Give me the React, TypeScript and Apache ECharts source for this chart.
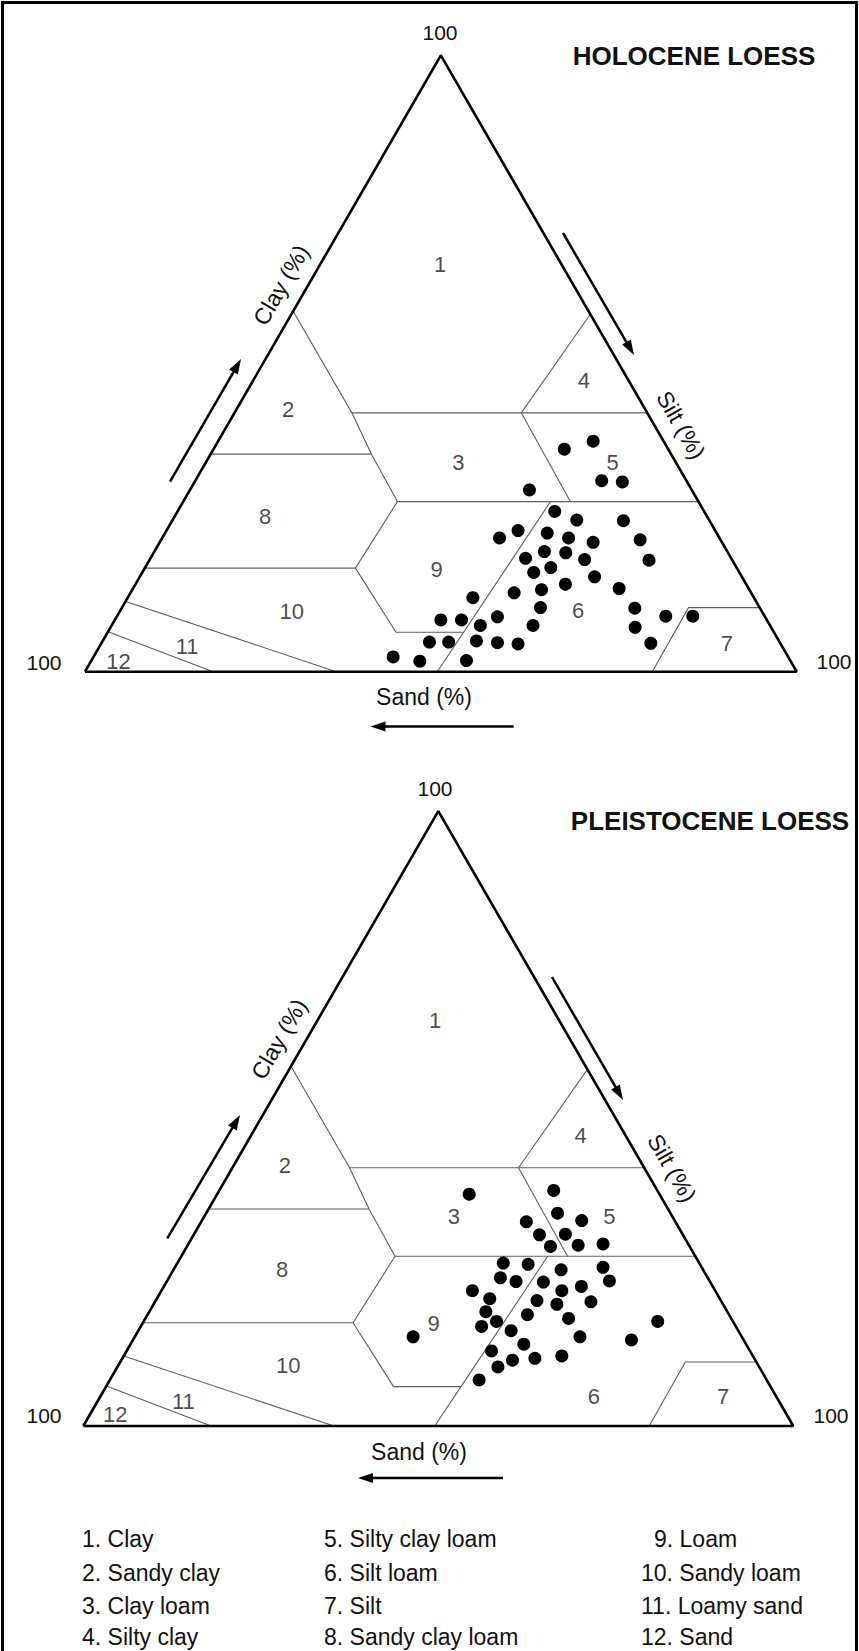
import React, { useEffect, useRef } from "react";
import * as echarts from "echarts";

// ---------- DATA (ternary compositions as [clay %, silt %]; sand % = 100 - clay - silt) ----------
const holoceneSamples: [number, number][] = [
  [36.1, 49.3], [37.4, 52.7], [31.0, 57.1], [30.8, 60.1], [29.5, 47.7], [26.0, 53.0],
  [24.6, 56.8], [24.5, 63.4], [21.7, 47.4], [22.9, 49.4], [22.5, 53.7], [21.7, 57.1],
  [21.0, 60.9], [21.4, 67.3], [19.5, 54.8], [19.3, 57.9], [18.4, 52.7], [18.2, 61.1],
  [18.1, 70.2], [16.1, 55.0], [16.9, 57.0], [15.4, 63.9], [12.0, 48.5], [12.8, 53.9],
  [13.3, 57.5], [14.2, 60.4], [13.5, 68.3], [8.4, 45.8], [8.4, 48.7], [7.5, 51.8],
  [8.9, 53.5], [10.4, 58.8], [10.3, 72.1], [9.0, 77.1], [9.0, 80.9], [7.5, 59.2],
  [7.2, 73.7], [4.8, 46.0], [4.8, 48.7], [5.0, 52.5], [4.7, 55.6], [4.5, 58.6],
  [4.6, 77.2], [1.7, 46.2], [1.8, 52.7], [2.4, 42.1],
];

const pleistoceneSamples: [number, number][] = [
  [37.7, 35.5], [38.3, 47.1], [34.6, 49.5], [33.2, 45.8], [33.4, 53.5], [31.1, 48.7],
  [31.2, 52.3], [29.2, 51.2], [29.4, 55.0], [29.6, 58.4], [26.5, 45.9], [26.3, 49.5],
  [25.4, 54.6], [25.8, 60.3], [24.1, 46.7], [23.5, 49.2], [23.4, 53.1], [22.7, 58.8],
  [23.6, 62.3], [22.0, 43.8], [22.0, 56.4], [20.7, 46.9], [20.2, 61.4], [20.4, 53.7],
  [19.8, 56.8], [18.6, 47.4], [18.1, 53.5], [17.5, 59.6], [16.2, 48.0], [17.0, 49.7],
  [15.5, 52.5], [14.5, 39.2], [14.5, 62.7], [14.0, 70.2], [17.0, 72.4], [13.3, 55.4],
  [12.2, 51.4], [10.7, 55.1], [11.0, 58.1], [11.4, 61.7], [9.6, 53.6], [7.5, 52.0],
];

// Texture-class boundary polylines, [clay %, silt %]
const boundarySandClay: [number, number][] = [[58.5, 0], [42, 16.5], [35.3, 22.6], [27.6, 30.1], [16.8, 29.6], [6.4, 40.5], [6.4, 50.0]];
const boundaryClay42: [number, number][] = [[42, 16.5], [42, 40.3], [42, 58]];
const boundarySiltyClay: [number, number][] = [[42, 40.3], [58, 42]];
const boundaryClayLoam: [number, number][] = [[42, 40.3], [27.6, 54.4]];
const boundaryClay27: [number, number][] = [[27.6, 30.1], [27.6, 72.4]];
const boundarySilt50: [number, number][] = [[27.6, 51.6], [6.4, 50.0], [0, 49.5]];
const boundaryClay35: [number, number][] = [[35.3, 0], [35.3, 22.6]];
const boundaryClay17: [number, number][] = [[16.8, 0], [16.8, 29.6]];
const boundaryLoamySand: [number, number][] = [[11.4, 0], [0, 35.3]];
const boundarySand: [number, number][] = [[6.5, 0], [0, 18.0]];
const boundarySilt: [number, number][] = [[0, 79.7], [10.4, 79.6], [10.4, 89.6]];
const outline: [number, number][] = [[0, 0], [0, 100], [100, 0], [0, 0]];

const classNames = [
  "Clay", "Sandy clay", "Clay loam", "Silty clay", "Silty clay loam", "Silt loam",
  "Silt", "Sandy clay loam", "Loam", "Sandy loam", "Loamy sand", "Sand",
];
const holoceneLabelPos: [number, number][] = [
  [66.0, 16.9], [42.5, 7.3], [33.9, 35.5], [47.2, 46.5], [33.9, 57.2], [10.0, 64.3],
  [4.6, 87.9], [25.2, 12.7], [16.6, 41.1], [9.7, 24.2], [4.1, 12.3], [1.6, 3.9],
];
const pleistoceneLabelPos: [number, number][] = [
  [65.9, 16.6], [42.4, 7.2], [34.0, 35.2], [47.3, 46.4], [34.0, 57.1], [4.8, 69.5],
  [4.8, 87.7], [25.4, 15.3], [16.7, 41.0], [9.9, 23.9], [4.0, 12.1], [1.8, 3.6],
];
const panelTitles = ["HOLOCENE LOESS", "PLEISTOCENE LOESS"];

// ---------- LAYOUT ----------
const FONT = "'Liberation Sans', Arial, Helvetica, sans-serif";
const grids = [
  { left: 85, top: 55.4, width: 711.7, height: 616.3 },
  { left: 83.3, top: 811.1, width: 710, height: 614.9 },
];

const toXY = (p: [number, number]) => [p[1] + p[0] / 2, p[0]];

function arrow(x1: number, y1: number, x2: number, y2: number) {
  const dx = x2 - x1, dy = y2 - y1;
  const L = Math.hypot(dx, dy);
  const ux = dx / L, uy = dy / L;
  const hl = 15, hw = 5;
  const bx = x2 - ux * hl, by = y2 - uy * hl;
  return [
    { type: "line", shape: { x1, y1, x2: bx + ux * 2, y2: by + uy * 2 }, style: { stroke: "#000", lineWidth: 2.5 } },
    {
      type: "polygon",
      shape: { points: [[x2, y2], [bx - uy * hw, by + ux * hw], [bx + uy * hw, by - ux * hw]] },
      style: { fill: "#000" },
    },
  ];
}

function txt(text: string, x: number, y: number, size: number, opts: any = {}) {
  return {
    type: "text",
    x,
    y,
    rotation: opts.rotation || 0,
    style: {
      text,
      fontSize: size,
      fontFamily: FONT,
      fontWeight: opts.bold ? "bold" : "normal",
      fill: "#111",
      align: opts.align || "center",
      textAlign: opts.align || "center",
      verticalAlign: "middle",
      textVerticalAlign: "middle",
    },
  };
}

export default function App() {
  const ref = useRef<HTMLDivElement>(null);
  useEffect(() => {
    document.body.style.margin = "0";
    const chart = echarts.init(ref.current!, null, { renderer: "svg" });

    const boundaries = [
      boundarySandClay, boundaryClay42, boundarySiltyClay, boundaryClayLoam, boundaryClay27,
      boundarySilt50, boundaryClay35, boundaryClay17, boundaryLoamySand, boundarySand, boundarySilt,
    ];
    const samples = [holoceneSamples, pleistoceneSamples];
    const labelPos = [holoceneLabelPos, pleistoceneLabelPos];

    const series: any[] = [];
    grids.forEach((_, gi) => {
      boundaries.forEach((b) => {
        series.push({
          type: "line", xAxisIndex: gi, yAxisIndex: gi, data: b.map(toXY), symbol: "none",
          lineStyle: { color: "#5e5e5e", width: 1.1 }, silent: true, z: 1, clip: false,
        });
      });
      series.push({
        type: "line", xAxisIndex: gi, yAxisIndex: gi, data: outline.map(toXY), symbol: "none",
        lineStyle: { color: "#000", width: 2.6 }, silent: true, z: 3, clip: false,
      });
      series.push({
        type: "scatter", xAxisIndex: gi, yAxisIndex: gi, data: samples[gi].map(toXY),
        symbolSize: 13, itemStyle: { color: "#000", opacity: 1 }, z: 4, clip: false,
      });
      series.push({
        type: "scatter", xAxisIndex: gi, yAxisIndex: gi,
        data: labelPos[gi].map((p, i) => ({ name: String(i + 1), value: toXY(p) })),
        symbolSize: 1, itemStyle: { color: "rgba(0,0,0,0)" }, z: 2, clip: false,
        label: {
          show: true, position: "inside", formatter: (p: any) => p.name,
          fontSize: 22, fontFamily: FONT, color: "#1a1a1a",
        },
      });
    });

    const graphic: any[] = [
      { type: "rect", shape: { x: 2.5, y: 2.5, width: 854, height: 1700 }, style: { fill: "none", stroke: "#000", lineWidth: 3 } },
      // top panel
      txt("100", 440, 32, 21),
      txt("100", 44, 662, 21),
      txt("100", 834, 661, 21),
      txt(panelTitles[0], 694, 56, 26, { bold: true }),
      txt("Clay (%)", 281, 285, 23, { rotation: Math.PI / 3 }),
      txt("Silt (%)", 681, 425, 23, { rotation: -Math.PI / 3 }),
      txt("Sand (%)", 424, 697, 23),
      ...arrow(170, 481.7, 241, 359),
      ...arrow(563, 233, 634, 355),
      ...arrow(513.7, 726.4, 370.5, 726.4),
      // bottom panel
      txt("100", 435, 788, 21),
      txt("100", 44, 1415, 21),
      txt("100", 831, 1415, 21),
      txt(panelTitles[1], 710, 821, 26, { bold: true }),
      txt("Clay (%)", 279, 1039, 23, { rotation: Math.PI / 3 }),
      txt("Silt (%)", 672, 1168, 23, { rotation: -Math.PI / 3 }),
      txt("Sand (%)", 419, 1452, 23),
      ...arrow(167.3, 1238.3, 240, 1115),
      ...arrow(552, 977, 623, 1100),
      ...arrow(503, 1478, 358, 1478),
    ];
    // legend
    const colX = [82, 324, 641];
    const rowY = [1539, 1573, 1606, 1637];
    classNames.forEach((n, i) => {
      const col = Math.floor(i / 4), row = i % 4;
      const x = colX[col] + (col === 2 && i + 1 < 10 ? 13 : 0);
      graphic.push(txt(`${i + 1}. ${n}`, x, rowY[row], 23, { align: "left" }));
    });

    chart.setOption({
      animation: false,
      backgroundColor: "#ffffff",
      grid: grids.map((g) => ({ ...g, containLabel: false })),
      xAxis: grids.map((_, gi) => ({ type: "value", gridIndex: gi, min: 0, max: 100, show: false })),
      yAxis: grids.map((_, gi) => ({ type: "value", gridIndex: gi, min: 0, max: 100, show: false })),
      series,
      graphic: { elements: graphic },
    });
    return () => chart.dispose();
  }, []);
  return <div ref={ref} style={{ position: "absolute", left: 0, top: 0, width: 859, height: 1651 }} />;
}
